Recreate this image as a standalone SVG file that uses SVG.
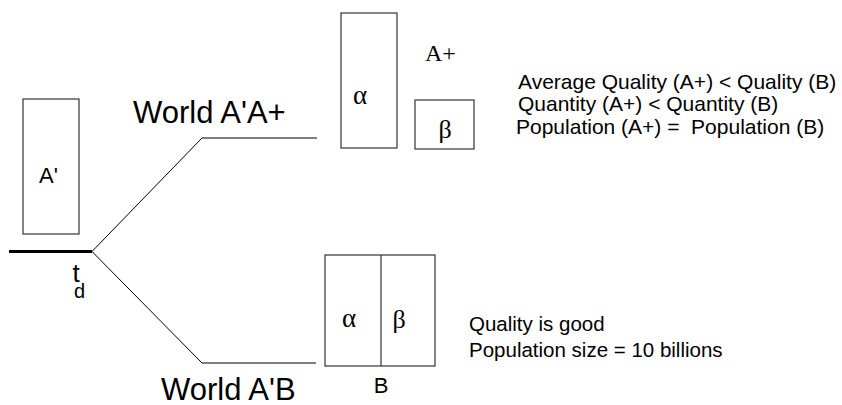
<svg xmlns="http://www.w3.org/2000/svg" width="842" height="405" viewBox="0 0 842 405">
<style>
.box{fill:none;stroke:#333;stroke-width:1.2}
.ln{fill:none;stroke:#000;stroke-width:1}
.sans{font-family:"Liberation Sans",Arial,sans-serif;fill:#000}
.serif{font-family:"Liberation Serif","Times New Roman",serif;fill:#000}
.greek{font-family:"DejaVu Serif","Liberation Serif",serif;fill:#000}
</style>
<rect width="842" height="405" fill="#fff"/>
<g id="connectors">
<line x1="9" y1="251.5" x2="92" y2="251.5" stroke="#000" stroke-width="3"/>
<polyline class="ln" points="92,251.5 202,138 317,138"/>
<polyline class="ln" points="92,251.5 202,363 316,363"/>
</g>
<g id="node-Aprime">
<rect class="box" x="23" y="99" width="56" height="135"/>
<text class="sans" x="39" y="183" font-size="22">A'</text>
</g>
<g id="label-td">
<text class="sans" x="72.5" y="282" font-size="26">t</text>
<text class="sans" x="74" y="298" font-size="20">d</text>
</g>
<g id="label-worldAA">
<text class="sans" x="133" y="123" font-size="31">World A'A+</text>
</g>
<g id="label-worldAB">
<text class="sans" x="161" y="400" font-size="31">World A'B</text>
</g>
<g id="node-Aplus-alpha">
<rect class="box" x="341" y="13" width="56" height="135"/>
<text class="serif" x="360" y="104" font-size="27" text-anchor="middle">α</text>
</g>
<g id="node-Aplus-beta">
<rect class="box" x="415" y="100" width="59" height="49"/>
<text class="serif" x="445" y="138" font-size="26" text-anchor="middle">β</text>
</g>
<g id="label-Aplus">
<text class="serif" x="425" y="61" font-size="24">A+</text>
</g>
<g id="node-B">
<rect class="box" x="325" y="255" width="110" height="111"/>
<line class="box" x1="381" y1="255" x2="381" y2="366"/>
<text class="serif" x="349" y="327" font-size="27" text-anchor="middle">α</text>
<text class="serif" x="399" y="328" font-size="26" text-anchor="middle">β</text>
<text class="sans" x="381" y="393" font-size="22" text-anchor="middle">B</text>
</g>
<g id="text-compare">
<text class="sans" x="518" y="89" font-size="21">Average Quality (A+) &lt; Quality (B)</text>
<text class="sans" x="518" y="111" font-size="21">Quantity (A+) &lt; Quantity (B)</text>
<text class="sans" x="516" y="134" font-size="21" xml:space="preserve">Population (A+) =  Population (B)</text>
</g>
<g id="text-B">
<text class="sans" x="469" y="331" font-size="20.5">Quality is good</text>
<text class="sans" x="469" y="357" font-size="20.5">Population size = 10 billions</text>
</g>
</svg>
